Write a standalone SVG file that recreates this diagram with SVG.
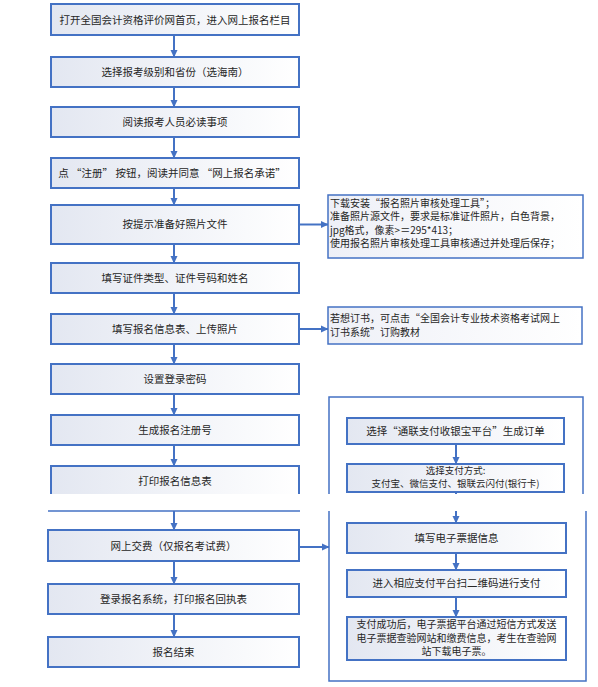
<svg xmlns="http://www.w3.org/2000/svg" width="598" height="687" viewBox="0 0 598 687">
<defs>
<linearGradient id="g" x1="0" y1="0" x2="1" y2="0">
<stop offset="0" stop-color="#e3e7f1"/>
<stop offset="1" stop-color="#ffffff"/>
</linearGradient>
<linearGradient id="g2" x1="0" y1="0" x2="1" y2="0">
<stop offset="0" stop-color="#eef0f7"/>
<stop offset="1" stop-color="#ffffff"/>
</linearGradient>
<marker id="ah" markerWidth="8" markerHeight="8" refX="7" refY="4" orient="auto" markerUnits="userSpaceOnUse">
<path d="M0,0.5 L7.5,4 L0,7.5 Z" fill="#4472c4"/>
</marker>
</defs>
<style>
.b{fill:url(#g);stroke:#4472c4;stroke-width:2}
.c{fill:url(#g2);stroke:#4472c4;stroke-width:1.5}
.o{fill:none;stroke:#4472c4;stroke-width:1.5}
.t{font-family:"Noto Sans CJK SC","Liberation Sans",sans-serif;font-size:10.5px;fill:#262626}
.s{font-size:10px}
.m{text-anchor:middle}
.k{fill:none;stroke:#4472c4;stroke-width:2}
</style>
<rect width="598" height="687" fill="#ffffff"/>

<g id="connectors">
<line class="k" x1="174" y1="35" x2="174" y2="57" marker-end="url(#ah)"/>
<line class="k" x1="174" y1="87" x2="174" y2="107" marker-end="url(#ah)"/>
<line class="k" x1="174" y1="137" x2="174" y2="158" marker-end="url(#ah)"/>
<line class="k" x1="174" y1="188" x2="174" y2="205" marker-end="url(#ah)"/>
<line class="k" x1="174" y1="244" x2="174" y2="263" marker-end="url(#ah)"/>
<line class="k" x1="174" y1="293" x2="174" y2="314" marker-end="url(#ah)"/>
<line class="k" x1="174" y1="344" x2="174" y2="364" marker-end="url(#ah)"/>
<line class="k" x1="174" y1="394" x2="174" y2="415" marker-end="url(#ah)"/>
<line class="k" x1="174" y1="445" x2="174" y2="466" marker-end="url(#ah)"/>
<line class="k" x1="174" y1="511" x2="174" y2="530" marker-end="url(#ah)"/>
<line class="k" x1="174" y1="561" x2="174" y2="584" marker-end="url(#ah)"/>
<line class="k" x1="174" y1="614" x2="174" y2="637" marker-end="url(#ah)"/>
<line class="k" x1="299" y1="224.5" x2="328" y2="224.5" marker-end="url(#ah)"/>
<line class="k" x1="299" y1="329" x2="328" y2="329" marker-end="url(#ah)"/>
<line class="k" x1="299" y1="547" x2="329" y2="547" marker-end="url(#ah)"/>
<line class="k" x1="456" y1="444" x2="456" y2="464" marker-end="url(#ah)"/>
<line class="k" x1="456" y1="492" x2="456" y2="494"/>
<line class="k" x1="456" y1="511" x2="456" y2="523" marker-end="url(#ah)"/>
<line class="k" x1="456" y1="553" x2="456" y2="570" marker-end="url(#ah)"/>
<line class="k" x1="456" y1="597" x2="456" y2="617" marker-end="url(#ah)"/>
</g>

<g id="n1"><rect class="b" x="51" y="4" width="248" height="31"/><text class="t m" x="175" y="23.5">打开全国会计资格评价网首页，进入网上报名栏目</text></g>
<g id="n2"><rect class="b" x="51" y="57" width="248" height="30"/><text class="t m" x="175" y="75.5">选择报考级别和省份（选海南）</text></g>
<g id="n3"><rect class="b" x="51" y="107" width="248" height="30"/><text class="t m" x="175" y="125.5">阅读报考人员必读事项</text></g>
<g id="n4"><rect class="b" x="51" y="158" width="248" height="30"/><text class="t m" x="172" y="176.5">点 “注册” 按钮，阅读并同意 “网上报名承诺”</text></g>
<g id="n5"><rect class="b" x="51" y="205" width="248" height="39"/><text class="t m" x="175" y="228">按提示准备好照片文件</text></g>
<g id="n6"><rect class="b" x="51" y="263" width="248" height="30"/><text class="t m" x="175" y="281.5">填写证件类型、证件号码和姓名</text></g>
<g id="n7"><rect class="b" x="51" y="314" width="248" height="30"/><text class="t m" x="175" y="332.5">填写报名信息表、上传照片</text></g>
<g id="n8"><rect class="b" x="51" y="364" width="248" height="30"/><text class="t m" x="175" y="382.5">设置登录密码</text></g>
<g id="n9"><rect class="b" x="51" y="415" width="248" height="30"/><text class="t m" x="175" y="433.5">生成报名注册号</text></g>
<g id="n10"><rect x="51" y="466" width="248" height="28" fill="url(#g)"/><path class="k" d="M51,494 V466 H299 V494"/><text class="t m" x="175" y="484.5">打印报名信息表</text></g>
<g id="cut-line"><line x1="48" y1="511" x2="300" y2="511" stroke="#4472c4" stroke-width="1.5"/></g>
<g id="n11"><rect class="b" x="48" y="530" width="251" height="31"/><text class="t m" x="173.5" y="549.5">网上交费（仅报名考试费）</text></g>
<g id="n12"><rect class="b" x="48" y="584" width="251" height="30"/><text class="t m" x="173.5" y="602.5">登录报名系统，打印报名回执表</text></g>
<g id="n13"><rect class="b" x="48" y="637" width="251" height="30"/><text class="t m" x="173.5" y="655.5">报名结束</text></g>

<g id="note1"><rect class="c" x="328" y="195" width="255" height="63"/>
<text class="t s" x="330" y="206.5">下载安装“报名照片审核处理工具”；</text>
<text class="t s" x="330" y="220">准备照片源文件，要求是标准证件照片，白色背景，</text>
<text class="t s" x="330" y="233.5">jpg格式，像素&gt;＝295*413；</text>
<text class="t s" x="330" y="247">使用报名照片审核处理工具审核通过并处理后保存；</text></g>
<g id="note2"><rect class="c" x="328" y="307" width="254" height="37"/>
<text class="t s" x="330" y="321.5">若想订书，可点击“全国会计专业技术资格考试网上</text>
<text class="t s" x="330" y="335.5">订书系统”订购教材</text></g>

<g id="pay-group"><path class="o" d="M329,494 V397 H583 V494"/><path class="o" d="M329,511 V681 H586 V511"/></g>
<g id="p1"><rect class="b" x="347" y="418" width="217" height="26"/><text class="t m" x="455.5" y="435">选择“通联支付收银宝平台”生成订单</text></g>
<g id="p2"><rect class="b" x="347" y="464" width="217" height="28"/><text class="t m" x="455.5" y="474" style="font-size:9.5px">选择支付方式:</text><text class="t m" x="455.5" y="487" style="font-size:9.5px">支付宝、微信支付、银联云闪付(银行卡)</text></g>
<g id="p3"><rect class="b" x="347" y="523" width="219" height="30"/><text class="t m" x="456.5" y="541.5">填写电子票据信息</text></g>
<g id="p4"><rect class="b" x="347" y="570" width="219" height="27"/><text class="t m" x="456.5" y="587">进入相应支付平台扫二维码进行支付</text></g>
<g id="p5"><rect class="b" x="347" y="617" width="219" height="43"/>
<text class="t m s" x="456.5" y="628">支付成功后，电子票据平台通过短信方式发送</text>
<text class="t m s" x="456.5" y="641.5">电子票据查验网站和缴费信息，考生在查验网</text>
<text class="t m s" x="456.5" y="655">站下载电子票。</text></g>
</svg>
